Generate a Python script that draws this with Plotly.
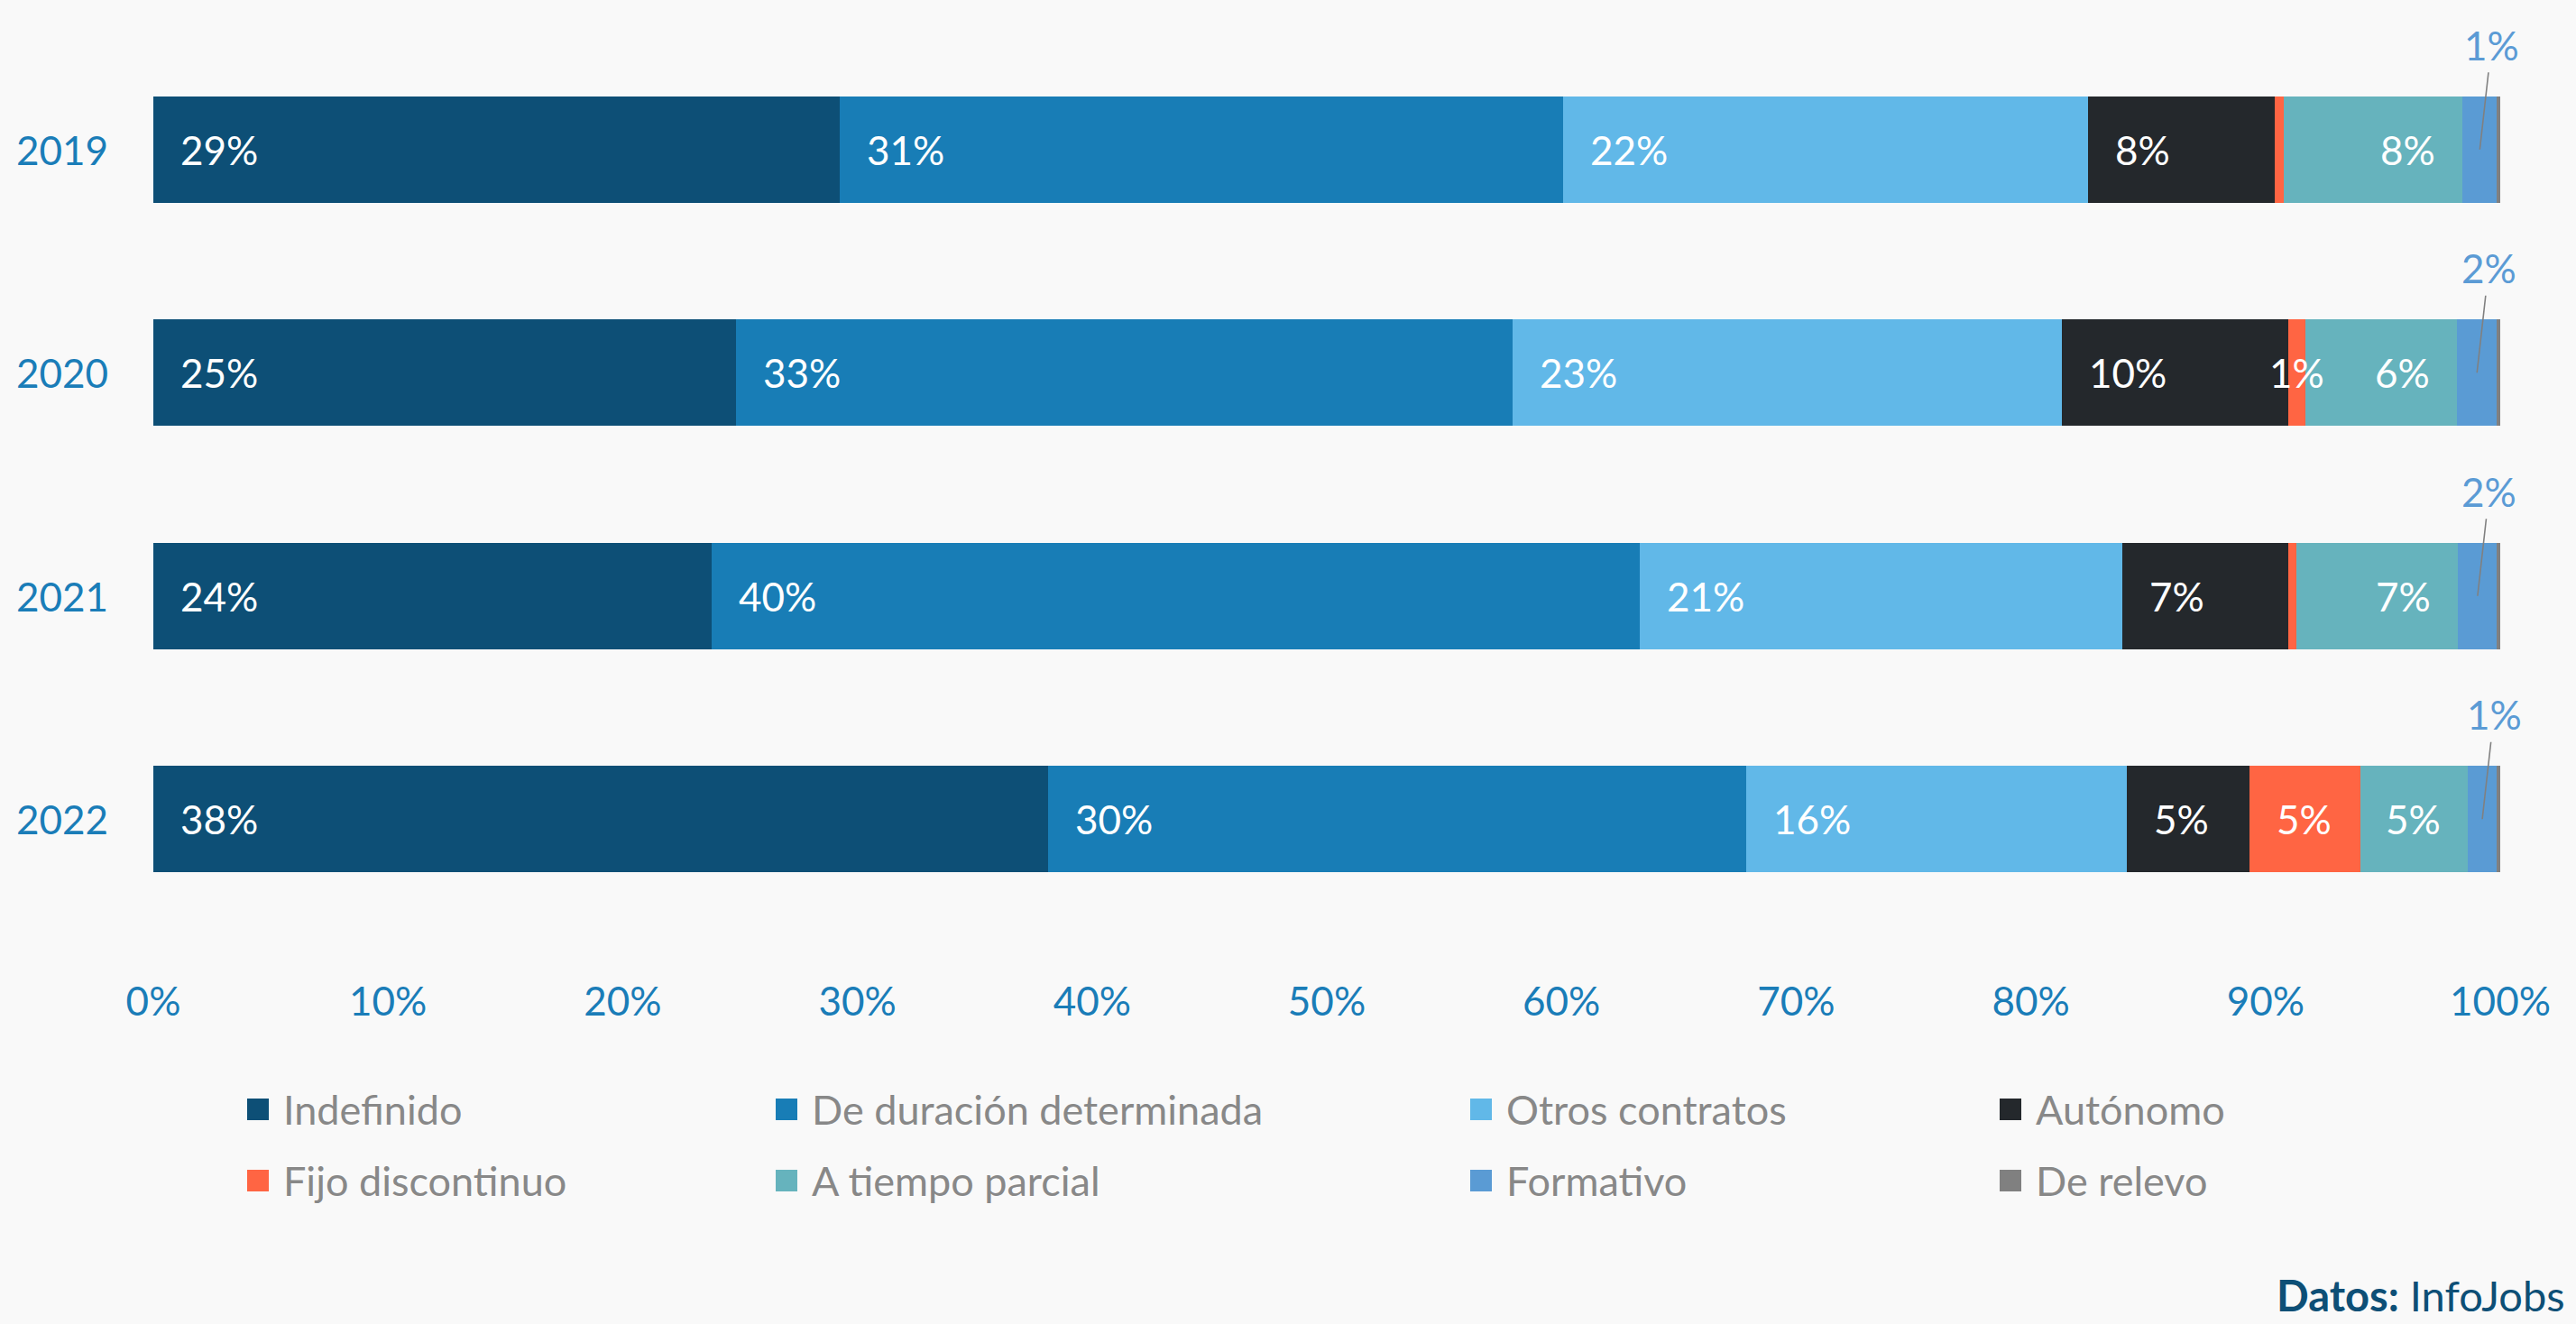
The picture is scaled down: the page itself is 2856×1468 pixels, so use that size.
import plotly.graph_objects as go

# ---- data -----------------------------------------------------------------
years = ["2019", "2020", "2021", "2022"]

series_names = [
    "Indefinido",
    "De duración determinada",
    "Otros contratos",
    "Autónomo",
    "Fijo discontinuo",
    "A tiempo parcial",
    "Formativo",
    "De relevo",
]

indefinido = [29.24, 24.83, 23.80, 38.12]
duracion = [30.83, 33.08, 39.55, 29.76]
otros = [22.37, 23.40, 20.53, 16.19]
autonomo = [7.95, 9.65, 7.07, 5.25]
fijo_discontinuo = [0.38, 0.75, 0.37, 4.71]
tiempo_parcial = [7.63, 6.45, 6.89, 4.58]
formativo = [1.46, 1.70, 1.65, 1.25]
de_relevo = [0.14, 0.14, 0.14, 0.14]

x_tick_values = [0, 10, 20, 30, 40, 50, 60, 70, 80, 90, 100]
x_tick_labels = [f"{v}%" for v in x_tick_values]

series_values = [indefinido, duracion, otros, autonomo,
                 fijo_discontinuo, tiempo_parcial, formativo, de_relevo]

# ---- style ----------------------------------------------------------------
colors = ["#0d4f76", "#187db6", "#61b8e8", "#24282c",
          "#ff6543", "#66b3bd", "#5a9bd4", "#808080"]
FONT = "Lato"
BG = "#f9f9f9"
AXIS_BLUE = "#1a7db8"
LEGEND_GREY = "#888888"
NAVY = "#0d4f76"

W, H = 2856, 1468
M_L, M_R, M_T, M_B = 170, 84, 42, 436
PLOT_W = W - M_L - M_R
PLOT_H = H - M_T - M_B


def px_to_paper_x(px):
    return (px - M_L) / PLOT_W


def px_to_paper_y(py):
    return (H - M_B - py) / PLOT_H


fig = go.Figure()

for name, vals, col in zip(series_names, series_values, colors):
    fig.add_trace(go.Bar(
        name=name,
        y=years,
        x=vals,
        orientation="h",
        marker=dict(color=col, line=dict(width=0)),
        showlegend=False,
        hovertemplate=name + ": %{x:.1f}%<extra>%{y}</extra>",
    ))

annotations = []

# value labels inside the segments, callouts for the thin "Formativo" slice
# (the y axis is categorical, so rows are addressed by index)
PAD = 28
for i, year in enumerate(years):
    start = 0.0
    for name, vals in zip(series_names, series_values):
        v = vals[i]
        label = f"{v:.0f}%"
        if name == "Formativo":
            annotations.append(dict(
                x=start + v / 2, y=i, xref="x", yref="y",
                text=label, showarrow=True, arrowhead=0, arrowwidth=1.6,
                arrowcolor="#808080", ax=13, ay=-116, startstandoff=3,
                font=dict(family=FONT, size=44, color="#5b9bd5"),
            ))
        elif name == "De relevo" or round(v) == 0:
            pass
        elif name == "A tiempo parcial":
            annotations.append(dict(
                x=start + v, y=i, xref="x", yref="y", text=label,
                showarrow=False, xanchor="right", xshift=-PAD, yanchor="middle",
                font=dict(family=FONT, size=44, color="white"),
            ))
        elif v < 2:
            annotations.append(dict(
                x=start + v / 2, y=i, xref="x", yref="y", text=label,
                showarrow=False, xanchor="center", yanchor="middle",
                font=dict(family=FONT, size=44, color="white"),
            ))
        else:
            annotations.append(dict(
                x=start, y=i, xref="x", yref="y", text=label,
                showarrow=False, xanchor="left", xshift=PAD, yanchor="middle",
                font=dict(family=FONT, size=44, color="white"),
            ))
        start += v

# year labels, left aligned
for i, year in enumerate(years):
    annotations.append(dict(
        x=px_to_paper_x(16), y=i, xref="paper", yref="y", text=year,
        showarrow=False, xanchor="left", yanchor="middle",
        font=dict(family=FONT, size=44, color=AXIS_BLUE),
    ))

# legend: 4 columns x 2 rows
legend_cols = [274, 860, 1630, 2217]
legend_rows = [1230, 1309]
SQ = 24
shapes = []
for k, (name, col) in enumerate(zip(series_names, colors)):
    cx = legend_cols[k % 4]
    cy = legend_rows[k // 4]
    shapes.append(dict(
        type="rect", xref="paper", yref="paper",
        x0=px_to_paper_x(cx), x1=px_to_paper_x(cx + SQ),
        y0=px_to_paper_y(cy + SQ / 2), y1=px_to_paper_y(cy - SQ / 2),
        fillcolor=col, line=dict(width=0),
    ))
    annotations.append(dict(
        x=px_to_paper_x(cx + 38), y=px_to_paper_y(cy), xref="paper", yref="paper",
        text=name, showarrow=False, xanchor="left", yanchor="middle",
        font=dict(family=FONT, size=45, color=LEGEND_GREY),
    ))

# source note
annotations.append(dict(
    x=px_to_paper_x(2846), y=px_to_paper_y(1436), xref="paper", yref="paper",
    text="<b>Datos:</b> InfoJobs", showarrow=False, xanchor="right", yanchor="middle",
    font=dict(family=FONT, size=47, color=NAVY),
))

fig.update_layout(
    width=W, height=H,
    margin=dict(l=M_L, r=M_R, t=M_T, b=M_B, pad=0),
    barmode="stack",
    bargap=0.523,
    paper_bgcolor=BG,
    plot_bgcolor=BG,
    font=dict(family=FONT),
    xaxis=dict(
        range=[0, 100],
        tickvals=x_tick_values,
        ticktext=x_tick_labels,
        tickfont=dict(family=FONT, size=44, color=AXIS_BLUE),
        showgrid=False, zeroline=False, showline=False, ticks="",
        ticklabelstandoff=49,
        fixedrange=True,
    ),
    yaxis=dict(
        type="category",
        categoryorder="array", categoryarray=years,
        range=[len(years) - 0.5, -0.5],
        showticklabels=False, showgrid=False, zeroline=False, showline=False,
        ticks="", fixedrange=True,
    ),
    annotations=annotations,
    shapes=shapes,
    showlegend=False,
)

fig.write_html("out.html")
